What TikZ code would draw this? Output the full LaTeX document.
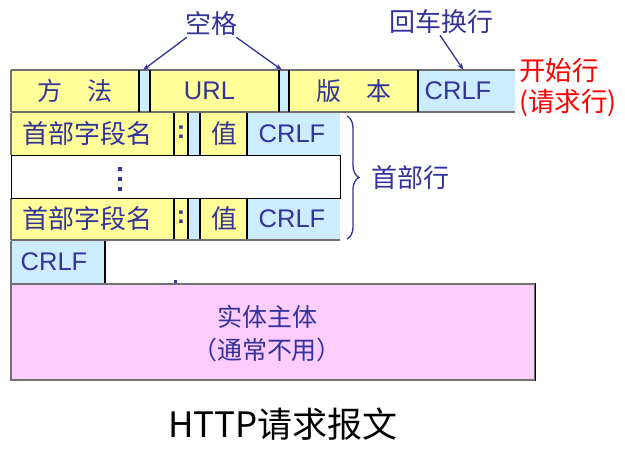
\documentclass[tikz,border=0pt]{standalone}
\usepackage{fontspec}
\setmainfont{Liberation Sans}
\newfontfamily\cjk{Noto Sans CJK SC}
\usetikzlibrary{arrows.meta,decorations.pathreplacing}
\definecolor{cellyellow}{HTML}{FFFF99}
\definecolor{cellblue}{HTML}{CCECFF}
\definecolor{cellpink}{HTML}{FFCCFF}
\definecolor{ink}{HTML}{333399}
\definecolor{rim}{HTML}{707070}
\begin{document}
\begin{tikzpicture}[x=1pt,y=-1pt,
  cellbox/.style={draw=none, inner sep=0pt, outer sep=0pt, minimum height=42pt},
  yel/.style={cellbox, fill=cellyellow},
  blu/.style={cellbox, fill=cellblue},
  txt/.style={text=ink, inner sep=0pt, font=\fontsize{25.5}{28}\selectfont},
  ctxt/.style={text=ink, inner sep=0pt, font=\cjk\fontsize{25}{28}\selectfont},
  note/.style={text=ink, inner sep=1pt, font=\cjk\fontsize{26}{28}\selectfont},
  divider/.style={black, line width=2pt},
  rimline/.style={rim, line width=1.2pt},
  pointer/.style={ink, line width=1.3pt, -{Stealth[length=7pt,width=5pt]}}]
\useasboundingbox (0,0) rectangle (625,448);

% ---- request line ----
\node[yel, minimum width=128pt] (method) at (75,91) {};
\node[blu, minimum width=11pt] (sp1) at (144.5,91) {};
\node[yel, minimum width=129pt] (url) at (214.5,91) {};
\node[blu, minimum width=10pt] (sp2) at (284,91) {};
\node[yel, minimum width=129pt] (ver) at (353.5,91) {};
\node[blu, minimum width=97pt] (crlf1) at (466.5,91) {};
\node[ctxt] (methodt) at (75,91) {方\hspace{1em}法};
\node[txt] (urlt) at (209.5,91) {URL};
\node[ctxt] (vert) at (353.5,91) {版\hspace{1em}本};
\node[txt] (crlf1t) at (458,91) {CRLF};
\draw[rimline] (method.north west) -- (crlf1.north east);
\draw[rimline] (method.south west) -- (crlf1.south east);
\draw[rimline] (method.north west) -- (method.south west);
\foreach \c in {method,sp1,url,sp2,ver}
  \draw[divider] (\c.north east) -- (\c.south east);

% ---- header lines ----
\foreach \r/\y in {h1/134, h2/219} {
  \node[yel, minimum width=163pt] (\r name) at (92.5,\y) {};
  \node[yel, minimum width=14pt] (\r colon) at (181,\y) {};
  \node[blu, minimum width=12pt] (\r sp) at (194,\y) {};
  \node[yel, minimum width=47pt] (\r val) at (223.5,\y) {};
  \node[blu, minimum width=93pt] (\r crlf) at (293.5,\y) {};
  \node[ctxt, font=\cjk\fontsize{26}{28}\selectfont] (\r namet) at (87.5,\y) {首部字段名};
  \node[txt, font=\bfseries\fontsize{25}{28}\selectfont] (\r colont) at (181,\y-2) {:};
  \node[ctxt, font=\cjk\fontsize{26}{28}\selectfont] (\r valt) at (224,\y) {值};
  \node[txt] (\r crlft) at (292,\y) {CRLF};
  \draw[rimline] (\r name.north west) -- (\r name.south west);
  \foreach \c in {name,colon,sp,val}
    \draw[divider] (\r\c.north east) -- (\r\c.south east);
}
\draw[rimline] (h2name.south west) -- (h2crlf.south east);

% ---- ellipsis line ----
\node[draw=black, line width=1pt, fill=white, inner sep=0pt, minimum width=329pt,
      minimum height=43pt] (more) at (175.5,176.5) {};
\foreach \y in {169,179,189}
  \fill[ink] (118.3,\y-1.8) rectangle (121.7,\y+1.8);

% ---- empty line ----
\node[blu, minimum width=94pt] (crlf3) at (58,262) {};
\node[txt] (crlf3t) at (54,262) {CRLF};
\draw[rimline] (crlf3.north west) -- (crlf3.south west);
\draw[divider] (crlf3.north east) -- (crlf3.south east);
\fill[ink] (174,280) rectangle (176.5,283);

% ---- entity body ----
\node[draw=rim, line width=1.2pt, fill=cellpink, inner sep=0pt, minimum width=524pt,
      minimum height=96pt] (body) at (273,332) {};
\draw[black, line width=1.5pt] (body.north east) -- (body.south east);
\node[note, align=center, font=\cjk\fontsize{25}{33}\selectfont] (bodyt) at (267,334)
  {实体主体\\（通常不用）};

% ---- annotations ----
\node[note] (gap) at (211,24) {空格};
\draw[pointer] ([xshift=3pt]gap.south west) -- ([xshift=-1.5pt]sp1.north);
\node[note] (eol) at (441,22) {回车换行};
\draw[pointer] ([xshift=-1pt]eol.south) -- ([xshift=-3pt]crlf1.north);
\draw[pointer] ([xshift=-2pt]gap.south east) -- ([xshift=-2pt]sp2.north);

\node[note, text=red, align=left, font=\cjk\fontsize{26.5}{31}\selectfont, anchor=north west]
  (start) at (518,57) {开始行\\(请求行)};

\draw[ink, line width=1.3pt, decorate, decoration={brace, amplitude=12pt}]
  ([xshift=7pt,yshift=-3pt]h1crlf.north east) -- ([xshift=7pt,yshift=1pt]h2crlf.south east)
  coordinate[midway, xshift=15pt] (tip);
\node[note, anchor=west] (hdr) at ([xshift=8pt]tip) {首部行};

% ---- caption ----
\node[inner sep=0pt, font=\cjk\fontsize{35}{38}\selectfont] (cap) at (283,424) {HTTP请求报文};
\end{tikzpicture}
\end{document}
